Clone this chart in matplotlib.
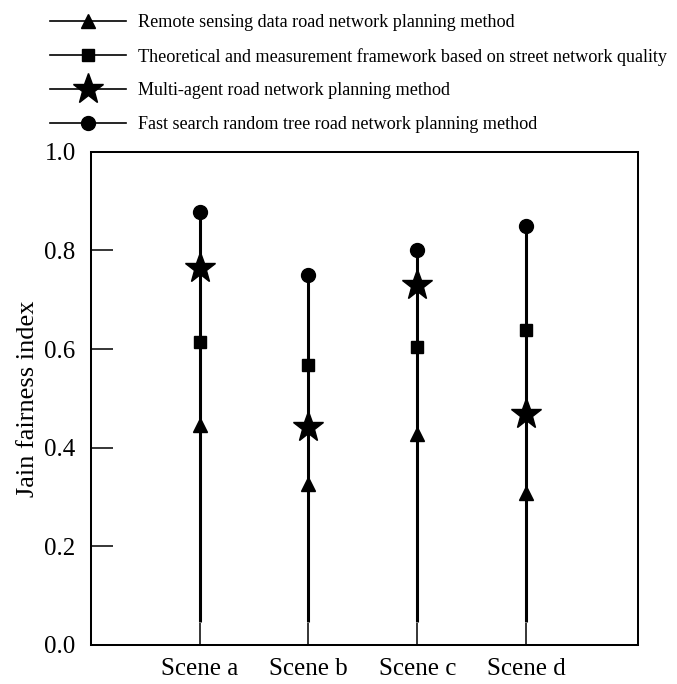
import numpy as np
import matplotlib
matplotlib.use("Agg")
import matplotlib.pyplot as plt
from matplotlib.lines import Line2D

plt.rcParams['font.family'] = ['Liberation Serif', 'DejaVu Serif']

scenes = ["Scene a", "Scene b", "Scene c", "Scene d"]
remote_sensing = [0.445, 0.326, 0.428, 0.307]
street_quality = [0.614, 0.567, 0.605, 0.639]
multi_agent = [0.764, 0.442, 0.730, 0.469]
fast_search = [0.879, 0.750, 0.801, 0.850]

labels = ["Remote sensing data road network planning method",
          "Theoretical and measurement framework based on street network quality",
          "Multi-agent road network planning method",
          "Fast search random tree road network planning method"]
markers = ["^", "s", "*", "o"]
msizes = [10.5, 9, 23, 10]

series = [remote_sensing, street_quality, multi_agent, fast_search]
x = np.arange(1, len(scenes) + 1)
base = 0.045  # stems start just above the tick marks

fig = plt.figure(figsize=(6.77, 6.84), dpi=100)
ax = fig.add_axes([0.1344, 0.0577, 0.8080, 0.7201])

tops = np.max(np.array(series), axis=0)
ax.vlines(x, base, tops, color="black", lw=2.2, zorder=2)
for vals, m, ms in zip(series, markers, msizes):
    ax.plot(x, vals, ls="none", marker=m, ms=ms, color="black", zorder=3)

ax.set_xlim(0, 5.03)
ax.set_ylim(0, 1.0)
ax.set_yticks([0.0, 0.2, 0.4, 0.6, 0.8, 1.0])
ax.set_yticklabels(["0.0", "0.2", "0.4", "0.6", "0.8", "1.0"])
ax.set_xticks(x)
ax.set_xticklabels(scenes)
ax.tick_params(direction="in", length=16, width=1.1, labelsize=18, pad=11)
ax.tick_params(axis="x", pad=10)
for s in ax.spines.values():
    s.set_linewidth(1.45)
ax.set_ylabel("Jain fairness index", fontsize=19, labelpad=4)

handles = [Line2D([], [], color="black", lw=1.2, marker=m, ms=ms)
           for m, ms in zip(markers, msizes)]
fig.legend(handles, labels, loc="upper left", bbox_to_anchor=(0.074, 0.979),
           frameon=False, fontsize=13.1, handlelength=4.18, handletextpad=0.66,
           labelspacing=0.91, borderpad=0, borderaxespad=0)

fig.savefig("out.png", dpi=100)
